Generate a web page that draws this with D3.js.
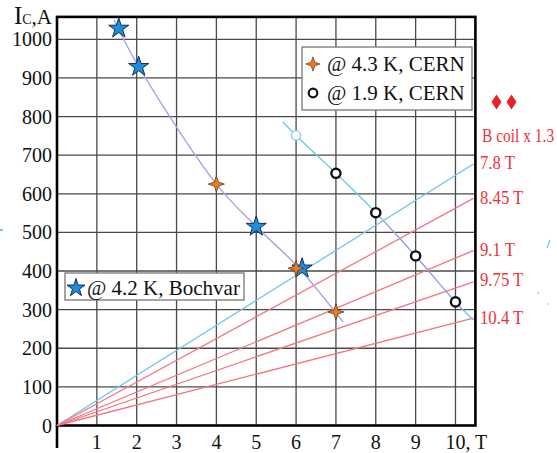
<!DOCTYPE html>
<html>
<head>
<meta charset="utf-8">
<script src="https://cdn.jsdelivr.net/npm/d3@7"></script>
<style>
  body { margin: 0; background: #fff; }
  svg text { font-family: "Liberation Serif", "Times New Roman", serif; }
</style>
</head>
<body>
<script>
(function (d3) {
    'use strict';

    // tick values
    var xTicks = [1, 2, 3, 4, 5, 6, 7, 8, 9, 10];
    var yTicks = [0, 100, 200, 300, 400, 500, 600, 700, 800, 900, 1000];

    // measured points
    var bochvarB = [1.55, 2.05, 5.0, 6.15];
    var bochvarI = [1028, 929, 515, 407];
    var cern43B = [4, 6, 7];
    var cern43I = [625, 407, 294];
    var cern19B = [6, 7, 8, 9, 10];
    var cern19I = [751, 653, 551, 439, 320];

    // hand-drawn guide curves
    var fit42B = [1.43, 2.05, 4, 5, 6.05, 7.18];
    var fit42I = [1050, 929, 625, 515, 410, 268];
    var fit19B = [5.67, 6, 7, 8, 9, 10, 10.45];
    var fit19I = [786, 751, 653, 551, 439, 320, 273];

    // load lines from the origin
    var loadLabels = ["7.8 T", "8.45 T", "9.1 T", "9.75 T", "10.4 T"];
    var loadEndB = 10.45;
    var loadEndI = [677, 588, 453, 372, 278];
    var loadColors = ["#6cc6ec", "#f27580", "#f27580", "#f27580", "#f27580"];
    var loadLabelY = [169, 204, 256, 286, 324];

    var W = 557, H = 453;
    var x = d3.scaleLinear().domain([0, 10.5]).range([57, 475.4]);
    var y = d3.scaleLinear().domain([0, 1058]).range([425.5, 16.9]);

    var svg = d3.select("body").append("svg")
        .attr("width", W)
        .attr("height", H);

    // grid
    svg.append("g").selectAll("line")
        .data(xTicks).enter().append("line")
        .attr("x1", function (d) { return x(d); })
        .attr("x2", function (d) { return x(d); })
        .attr("y1", y(1058)).attr("y2", y(0))
        .attr("stroke", "#4a4a4a").attr("stroke-width", 1.3);
    svg.append("g").selectAll("line")
        .data(yTicks.slice(1)).enter().append("line")
        .attr("x1", x(0)).attr("x2", x(10.5))
        .attr("y1", function (d) { return y(d); })
        .attr("y2", function (d) { return y(d); })
        .attr("stroke", "#4a4a4a").attr("stroke-width", 1.3);

    // frame
    svg.append("rect")
        .attr("x", x(0)).attr("y", y(1058))
        .attr("width", x(10.5) - x(0))
        .attr("height", y(0) - y(1058))
        .attr("fill", "none")
        .attr("stroke", "#000").attr("stroke-width", 2.6);
    svg.append("line")
        .attr("x1", x(0)).attr("x2", x(0))
        .attr("y1", y(0)).attr("y2", 448)
        .attr("stroke", "#000").attr("stroke-width", 2.6);

    // tick labels
    svg.append("g").selectAll("text")
        .data(yTicks).enter().append("text")
        .attr("x", 52)
        .attr("y", function (d) { return y(d) + 7; })
        .attr("text-anchor", "end")
        .attr("font-size", 20)
        .attr("fill", "#111")
        .text(function (d) { return d; });
    svg.append("g").selectAll("text")
        .data(xTicks).enter().append("text")
        .attr("x", function (d) { return d === 10 ? x(d) - 10 : x(d); })
        .attr("y", 449)
        .attr("text-anchor", function (d) { return d === 10 ? "start" : "middle"; })
        .attr("font-size", 20)
        .attr("fill", "#111")
        .text(function (d) { return d === 10 ? "10, T" : d; });

    var ylab = svg.append("text")
        .attr("x", 52).attr("y", 24)
        .attr("text-anchor", "end")
        .attr("fill", "#111");
    ylab.append("tspan").attr("font-size", 25).text("I");
    ylab.append("tspan").attr("font-size", 14).text("C");
    ylab.append("tspan").attr("font-size", 21).text(",A");

    // load lines
    svg.append("g").selectAll("line")
        .data(loadEndI).enter().append("line")
        .attr("x1", x(0)).attr("y1", y(0))
        .attr("x2", x(loadEndB))
        .attr("y2", function (d) { return y(d); })
        .attr("stroke", function (d, i) { return loadColors[i]; })
        .attr("stroke-width", 1.3);

    // guide curves
    var line = d3.line()
        .x(function (d) { return x(d[0]); })
        .y(function (d) { return y(d[1]); })
        .curve(d3.curveCatmullRom);

    svg.append("path")
        .attr("d", line(d3.zip(fit42B, fit42I)))
        .attr("fill", "none")
        .attr("stroke", "#a2a6ec").attr("stroke-width", 1.4);

    var grad = svg.append("defs").append("linearGradient")
        .attr("id", "g19")
        .attr("gradientUnits", "userSpaceOnUse")
        .attr("x1", x(5.67)).attr("x2", x(10.45))
        .attr("y1", 0).attr("y2", 0);
    [[0, "#6ccbec"], [0.49, "#6ccbec"], [0.56, "#8f9fe6"], [0.92, "#8f9fe6"], [0.97, "#6ccbec"], [1, "#6ccbec"]]
        .forEach(function (s) {
            grad.append("stop").attr("offset", s[0]).attr("stop-color", s[1]);
        });
    svg.append("path")
        .attr("d", line(d3.zip(fit19B, fit19I)))
        .attr("fill", "none")
        .attr("stroke", "url(#g19)").attr("stroke-width", 1.4);

    // markers
    var star = d3.symbol().type(d3.symbolStar).size(125);
    var plus4 = "M0,-8 L2,-2 L8,0 L2,2 L0,8 L-2,2 L-8,0 L-2,-2Z";

    svg.append("g").selectAll("path")
        .data(d3.zip(bochvarB, bochvarI)).enter().append("path")
        .attr("d", star)
        .attr("transform", function (d) { return "translate(" + x(d[0]) + "," + y(d[1]) + ")"; })
        .attr("fill", "#1b8fdc")
        .attr("stroke", "#1a2a50").attr("stroke-width", 1);

    svg.append("g").selectAll("path")
        .data(d3.zip(cern43B, cern43I)).enter().append("path")
        .attr("d", plus4)
        .attr("transform", function (d) { return "translate(" + x(d[0]) + "," + y(d[1]) + ")"; })
        .attr("fill", "#f07a1e")
        .attr("stroke", "#5a3a20").attr("stroke-width", 0.8);

    svg.append("g").selectAll("circle")
        .data(d3.zip(cern19B, cern19I)).enter().append("circle")
        .attr("cx", function (d) { return x(d[0]); })
        .attr("cy", function (d) { return y(d[1]); })
        .attr("r", 4.6)
        .attr("fill", "#fff")
        .attr("stroke", function (d, i) { return i === 0 ? "#8fd4ec" : "#111"; })
        .attr("stroke-width", function (d, i) { return i === 0 ? 1.5 : 2.4; });

    // legend: CERN
    var lg1 = svg.append("g");
    lg1.append("rect")
        .attr("x", 302).attr("y", 47).attr("width", 170).attr("height", 63)
        .attr("fill", "#fff").attr("stroke", "#777").attr("stroke-width", 1.3);
    lg1.append("path").attr("d", plus4)
        .attr("transform", "translate(313,64) scale(0.9)")
        .attr("fill", "#f07a1e").attr("stroke", "#5a3a20").attr("stroke-width", 0.8);
    lg1.append("text").attr("x", 327).attr("y", 71).attr("font-size", 21)
        .attr("fill", "#111").text("@ 4.3 K, CERN");
    lg1.append("circle").attr("cx", 313).attr("cy", 93).attr("r", 4.3)
        .attr("fill", "#fff").attr("stroke", "#111").attr("stroke-width", 2.2);
    lg1.append("text").attr("x", 327).attr("y", 100).attr("font-size", 21)
        .attr("fill", "#111").text("@ 1.9 K, CERN");

    // legend: Bochvar
    var lg2 = svg.append("g");
    lg2.append("rect")
        .attr("x", 65).attr("y", 273).attr("width", 179).attr("height", 27)
        .attr("fill", "#fff").attr("stroke", "#777").attr("stroke-width", 1.3);
    lg2.append("path").attr("d", d3.symbol().type(d3.symbolStar).size(100))
        .attr("transform", "translate(76,288)")
        .attr("fill", "#1b8fdc").attr("stroke", "#1a2a50").attr("stroke-width", 1);
    lg2.append("text").attr("x", 87).attr("y", 295).attr("font-size", 21)
        .attr("fill", "#111").text("@ 4.2 K, Bochvar");

    // right-hand labels
    var red = "#ec3340";
    var diamond = "M0,-7.5 L5,0 L0,7.5 L-5,0Z";
    [496.5, 511.5].forEach(function (cx) {
        svg.append("path").attr("d", diamond)
            .attr("transform", "translate(" + cx + ",102)")
            .attr("fill", "#e8202a");
    });
    svg.append("text")
        .attr("transform", "translate(482,142) scale(0.86,1)")
        .attr("font-size", 18)
        .attr("fill", red).text("B coil x 1.3");
    svg.append("g").selectAll("text")
        .data(loadLabels).enter().append("text")
        .attr("transform", function (d, i) { return "translate(480," + loadLabelY[i] + ") scale(0.88,1)"; })
        .attr("font-size", 19)
        .attr("fill", red)
        .text(function (d) { return d; });

    // stray specks from the scan
    svg.append("line").attr("x1", 0).attr("y1", 230).attr("x2", 3).attr("y2", 230)
        .attr("stroke", "#6cc8ec").attr("stroke-width", 2);
    svg.append("line").attr("x1", 550).attr("y1", 240).attr("x2", 547).attr("y2", 248)
        .attr("stroke", "#6cc8ec").attr("stroke-width", 1.3);
    svg.append("circle").attr("cx", 538).attr("cy", 293).attr("r", 0.8).attr("fill", "#f27580");
    svg.append("circle").attr("cx", 548).attr("cy", 304).attr("r", 0.8).attr("fill", "#f27580");

})(d3);
</script>
</body>
</html>
